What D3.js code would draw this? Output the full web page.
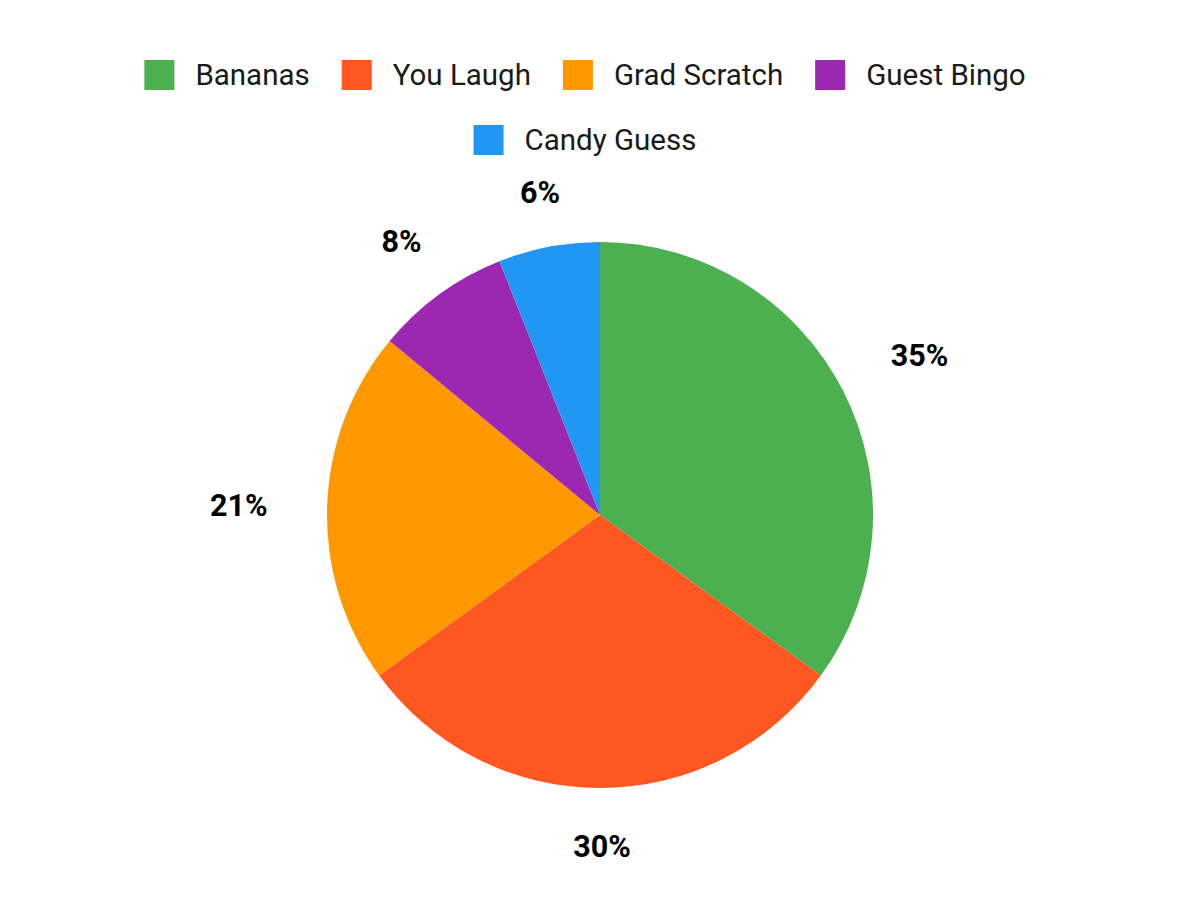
<!DOCTYPE html>
<html><head><meta charset="utf-8">
<script src="https://cdn.jsdelivr.net/npm/d3@7"></script>
<style>html,body{margin:0;padding:0;background:#fff;}svg{display:block;}</style>
</head><body>
<svg id="chart" width="1200" height="900"></svg>
<script>
const categories = ["Bananas", "You Laugh", "Grad Scratch", "Guest Bingo", "Candy Guess"];
const values = [35, 30, 21, 8, 6];
const colors = ["#4CAF50", "#FF5722", "#FF9800", "#9C27B0", "#2196F3"];

const svg = d3.select("#chart");
const cx = 600, cy = 515, R = 273;
const font = "Roboto, 'Noto Sans', sans-serif";

const data = categories.map((c, i) => ({ name: c, value: values[i], color: colors[i] }));
const pie = d3.pie().value(d => d.value).sort(null);
const arcs = pie(data);
const arc = d3.arc().innerRadius(0).outerRadius(R);

const g = svg.append("g").attr("transform", `translate(${cx},${cy})`);
g.selectAll("path").data(arcs).join("path")
  .attr("d", arc).attr("fill", d => d.data.color);

const total = d3.sum(values);
function labelPos(d) {
  const a = (d.startAngle + d.endAngle) / 2;
  const s = Math.sin(a);
  const r = 329 + 34.5 * s * s;
  return [r * s + 2, -r * Math.cos(a) + 2];
}
g.selectAll("text.lbl").data(arcs).join("text")
  .attr("class", "lbl")
  .attr("x", d => labelPos(d)[0])
  .attr("y", d => labelPos(d)[1])
  .attr("text-anchor", "middle").attr("dominant-baseline", "central")
  .attr("font-family", font).attr("font-weight", "bold").attr("font-size", 30.5)
  .attr("fill", "#000")
  .text(d => Math.round(d.data.value / total * 100) + "%");

// Legend
const rows = [[0, 1, 2, 3], [4]];
const legendCenter = 585, sw = 30, gapT = 21, gapI = 32, fs = 29.5;
const rowY = [60, 125];
const leg = svg.append("g");
rows.forEach((row, ri) => {
  const items = row.map(i => {
    const t = leg.append("text").attr("font-family", font).attr("font-size", fs).attr("fill", "#1a1a1a").text(categories[i]);
    return { i, t, w: t.node().getComputedTextLength() };
  });
  const rowW = d3.sum(items, d => sw + gapT + d.w) + gapI * (items.length - 1);
  let x = legendCenter - rowW / 2;
  items.forEach(it => {
    leg.append("rect").attr("x", x).attr("y", rowY[ri]).attr("width", sw).attr("height", sw).attr("fill", colors[it.i]);
    it.t.attr("x", x + sw + gapT).attr("y", rowY[ri] + sw / 2).attr("dominant-baseline", "central");
    x += sw + gapT + it.w + gapI;
  });
});
</script>
</body></html>
